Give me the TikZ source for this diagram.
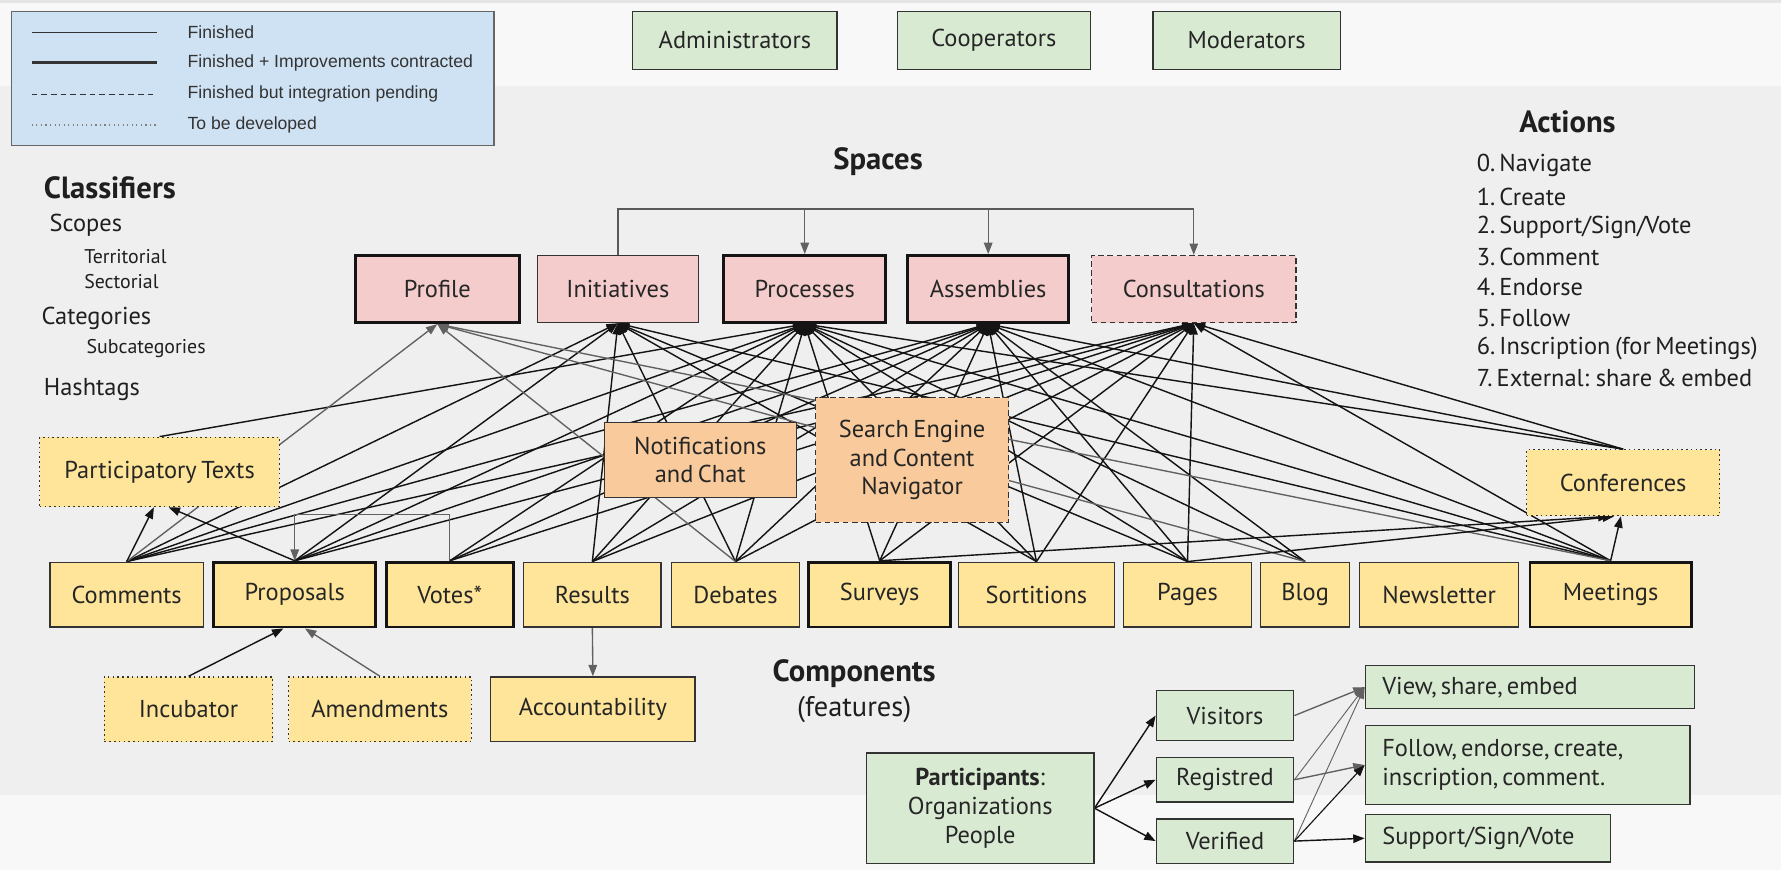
\documentclass[tikz,border=0pt]{standalone}
\usepackage{fontspec}
\setmainfont{PT Sans}[WordSpace=0.7]
\newfontfamily\legfont{Liberation Sans}
\usetikzlibrary{arrows.meta,calc}
\pgfdeclarelayer{bg}\pgfdeclarelayer{lines}
\pgfsetlayers{bg,lines,main}
\definecolor{spacec}{HTML}{F4CCCC}
\definecolor{compc}{HTML}{FFE599}
\definecolor{featc}{HTML}{F9CB9C}
\definecolor{rolec}{HTML}{D9EAD3}
\definecolor{legc}{HTML}{CFE2F3}
\definecolor{bandc}{HTML}{EFEFEF}
\definecolor{whitec}{HTML}{F8F8F8}
\definecolor{edgec}{HTML}{333333}
\newcommand\bfs{\fontsize{21.5}{25}\selectfont}
\newcommand\hfs{\fontsize{27}{30}\selectfont\bfseries}
\newcommand\bx[7]{\node[#6, minimum width={#4-#2}, minimum height={#5-#3}] (#1) at ({(#2+#4)/2},{(#3+#5)/2}) {#7};}
\begin{document}
\begin{tikzpicture}[x=1pt,y=-1pt,
  box/.style={draw=edgec, line width=1.2pt, inner sep=0pt, align=center, text=black!85, font=\bfs},
  thk/.style={line width=2.6pt, draw=black!92},
  dsh/.style={dash pattern=on 5pt off 3pt},
  dtd/.style={dash pattern=on 1.4pt off 2.8pt},
  sp/.style={box, fill=spacec},
  cp/.style={box, fill=compc},
  ft/.style={box, fill=featc},
  rl/.style={box, fill=rolec},
  conn/.style={line width=1.25pt, draw=black!92, -{Triangle[length=10pt,width=7.5pt]}},
  gconn/.style={line width=1.2pt, draw=black!62, -{Triangle[length=10pt,width=7.5pt]}},
  lbl/.style={inner sep=0pt, text=black!88},
  leg/.style={lbl, anchor=west, font=\legfont\fontsize{15.5}{18}\selectfont, text=black!80},
]
\useasboundingbox (0,0) rectangle (1568,766);
\begin{pgfonlayer}{bg}
\fill[whitec] (0,0) rectangle (1568,766);
\fill[bandc] (0,76) rectangle (1568,700);
\fill[black!10] (0,0) rectangle (1568,2.5);
\end{pgfonlayer}

% legend
\bx{legend}{10}{10}{435}{128}{box, fill=legc, draw=black!60}{}
\draw[line width=1.3pt, edgec] (28,28.5) -- (138,28.5);
\draw[line width=2.8pt, edgec] (28,55) -- (138,55);
\draw[line width=1.3pt, edgec, dash pattern=on 5pt off 3.5pt] (28,83) -- (138,83);
\draw[line width=1pt, black!50, dash pattern=on 1pt off 3pt] (28,110) -- (138,110);
\node[leg] (lg1) at (165,28.5) {Finished};
\node[leg] (lg2) at (165,55) {Finished + Improvements contracted};
\node[leg] (lg3) at (165,83) {Finished but integration pending};
\node[leg] (lg4) at (165,110) {To be developed};

% roles
\bx{adm}{557}{10}{737}{61}{rl}{Administrators}
\bx{coop}{790}{10}{960}{61}{rl}{Cooperators}
\bx{mod}{1015}{10}{1180}{61}{rl}{Moderators}

% titles
\node[lbl, font=\hfs] (spt) at (773,142) {Spaces};
\node[lbl, font=\hfs] (act) at (1380,107) {Actions};
\node[lbl, font=\hfs] (cmpt) at (752,593) {Components};
\node[lbl, font=\fontsize{25}{28}\selectfont] (feat) at (752,625) {(features)};
\node[lbl, anchor=west, font=\hfs] (clf) at (38.5,165) {Classifiers};
\node[lbl, anchor=west, font=\fontsize{21.5}{24}\selectfont] (scp) at (43.5,198) {Scopes};
\node[lbl, anchor=west, font=\fontsize{17.5}{20}\selectfont] (ter) at (74,226) {Territorial};
\node[lbl, anchor=west, font=\fontsize{17.5}{20}\selectfont] (sec) at (74,248) {Sectorial};
\node[lbl, anchor=west, font=\fontsize{21.5}{24}\selectfont] (cat) at (36.5,280) {Categories};
\node[lbl, anchor=west, font=\fontsize{17.5}{20}\selectfont] (sub) at (76,307) {Subcategories};
\node[lbl, anchor=west, font=\fontsize{21.5}{24}\selectfont] (hsh) at (38.5,343) {Hashtags};

% actions
\begin{scope}[every node/.style={lbl, anchor=west, font=\fontsize{21.5}{24}\selectfont}]
\node (a0) at (1300,146) {0.\,Navigate};
\node (a1) at (1300,173) {1.\,Create};
\node (a2) at (1300,200) {2.\,Support/Sign/Vote};
\node (a3) at (1300,226.5) {3.\,Comment};
\node (a4) at (1300,253) {4.\,Endorse};
\node (a5) at (1300,280) {5.\,Follow};
\node (a6) at (1300,306.5) {6.\,Inscription (for Meetings)};
\node (a7) at (1300,333) {7.\,External: share \& embed};
\end{scope}

% spaces
\bx{prof}{313}{225}{457}{284}{sp, thk}{Profile}
\bx{init}{473}{225}{615}{284}{sp}{Initiatives}
\bx{proc}{637}{225}{780}{284}{sp, thk}{Processes}
\bx{asm}{799}{225}{941}{284}{sp, thk}{Assemblies}
\bx{cons}{961}{225}{1141}{284}{sp, dsh}{Consultations}

% features
\bx{notif}{532}{372}{701}{438}{ft}{Notifications\\and Chat}
\bx{search}{718}{350}{888}{460}{ft, dsh}{Search Engine\\and Content\\Navigator}
\bx{pt}{35}{385}{246}{446}{cp, dtd}{Participatory Texts}
\bx{conf}{1344}{396}{1514}{454}{cp, dtd}{Conferences}

% components
\bx{com}{44}{495}{179}{552}{cp}{Comments}
\bx{prop}{188}{495}{331}{552}{cp, thk}{Proposals}
\bx{votes}{340}{495}{452}{552}{cp, thk}{Votes*}
\bx{res}{461}{495}{582}{552}{cp}{Results}
\bx{deb}{591}{495}{704}{552}{cp}{Debates}
\bx{surv}{712}{495}{837}{552}{cp, thk}{Surveys}
\bx{sort}{844}{495}{981}{552}{cp}{Sortitions}
\bx{pages}{989}{495}{1102}{552}{cp}{Pages}
\bx{blog}{1110}{495}{1188}{552}{cp}{Blog}
\bx{news}{1197}{495}{1337}{552}{cp}{Newsletter}
\bx{meet}{1347}{495}{1489}{552}{cp, thk}{Meetings}

\bx{inc}{92}{596}{240}{653}{cp, dtd}{Incubator}
\bx{amd}{254}{596}{415}{653}{cp, dtd}{Amendments}
\bx{acc}{432}{596}{612}{653}{cp}{Accountability}

% participants
\bx{part}{763}{663}{963}{760}{rl, font=\fontsize{21.5}{25.5}\selectfont}{\textbf{Participants}:\\Organizations\\People}
\bx{vis}{1018}{608}{1139}{652}{rl}{Visitors}
\bx{reg}{1018}{667}{1139}{706}{rl}{Registred}
\bx{ver}{1018}{721}{1139}{760}{rl}{Verified}
\bx{view}{1202}{586}{1492}{624}{rl, align=left, text width=260}{View,\,share,\,embed}
\bx{follow}{1202}{639}{1488}{708}{rl, align=left, text width=256, font=\fontsize{21.5}{26}\selectfont}{Follow,\,endorse,\,create,\\inscription,\,comment.}
\bx{support}{1202}{717}{1418}{759}{rl, align=left, text width=186}{Support/Sign/Vote}

\begin{pgfonlayer}{lines}
\coordinate (brk) at (0,184);
\draw[line width=1.2pt, black!65] (init.north) -- (init.north |- brk) -- (cons.north |- brk);
\foreach \t in {proc,asm,cons} \draw[gconn] (\t.north |- brk) -- (\t.north);

\foreach \c/\s in {com/init, com/proc, com/asm, com/cons,
  prop/init, prop/proc, prop/asm, prop/cons,
  votes/proc, votes/asm, votes/cons,
  res/init, res/proc, res/asm, res/cons,
  deb/init, deb/proc, deb/asm, deb/cons,
  surv/proc, surv/asm, surv/cons,
  sort/init, sort/proc, sort/asm, sort/cons,
  pages/init, pages/proc, pages/asm, pages/cons,
  blog/proc, blog/asm,
  meet/init, meet/proc, meet/asm, meet/cons,
  conf/proc, conf/asm, conf/cons, pt/proc}
  \draw[conn] (\c.north) -- (\s.south);
\foreach \c in {com, deb, blog, meet}
  \draw[gconn] (\c.north) -- (prof.south);
\draw[conn] (com.north) -- ($(pt.south)+(-5,0)$);
\draw[conn] (prop.north) -- ($(pt.south)+(8,0)$);
\draw[conn] (surv.north) -- ($(conf.south)+(-12,0)$);
\draw[conn] (pages.north) -- ($(conf.south)+(-8,0)$);
\draw[conn] (meet.north) -- ($(conf.south)+(-2,0)$);

\coordinate (vb) at (0,453);
\draw[gconn] (votes.north) -- (votes.north |- vb) -- (prop.north |- vb) -- (prop.north);
\draw[gconn] (res.south) -- (acc.north);
\draw[conn] (inc.north) -- ($(prop.south)+(-10,0)$);
\draw[gconn] (amd.north) -- ($(prop.south)+(9,0)$);

\draw[conn] (part.east) -- (vis.west);
\draw[conn] (part.east) -- (reg.west);
\draw[conn] (part.east) -- (ver.west);
\draw[gconn] (vis.east) -- (view.west);
\draw[gconn, line width=0.8pt] (reg.east) -- (view.west);
\draw[gconn] (reg.east) -- (follow.west);
\draw[gconn, line width=0.8pt] (ver.east) -- (view.west);
\draw[conn, line width=1pt] (ver.east) -- (follow.west);
\draw[conn] (ver.east) -- (support.west);
\end{pgfonlayer}
\end{tikzpicture}
\end{document}
